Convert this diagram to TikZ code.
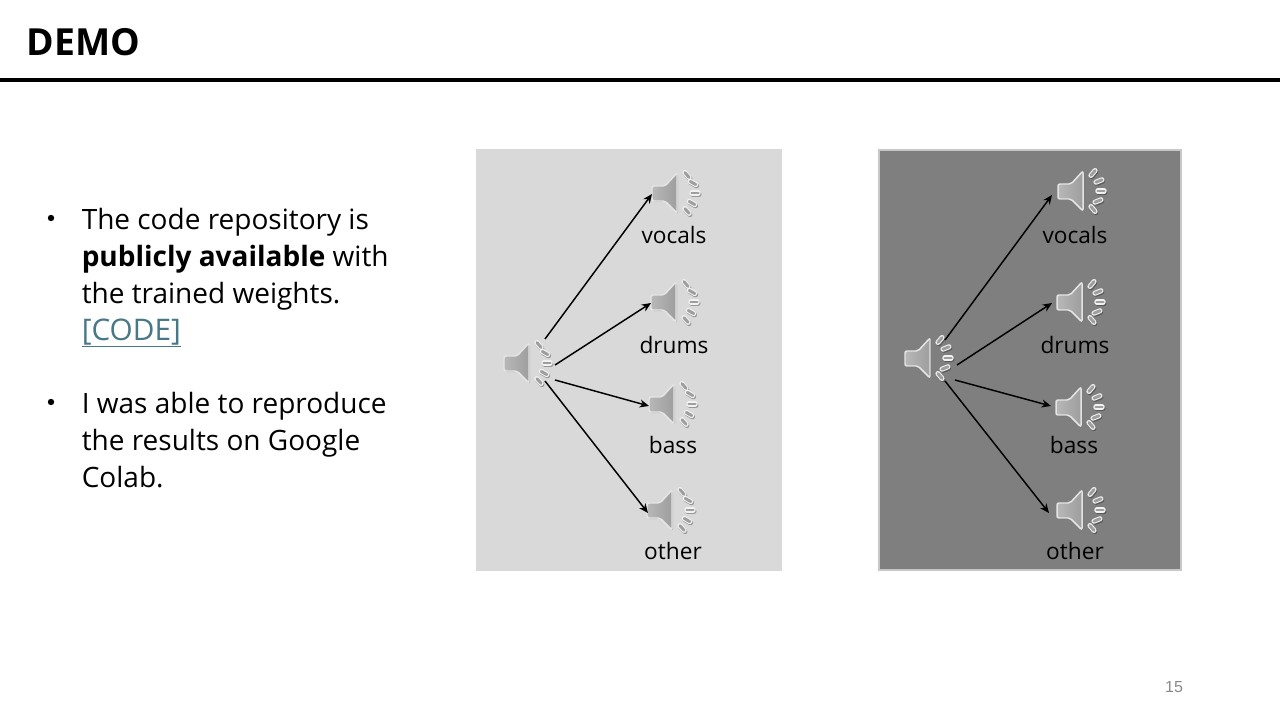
\documentclass[tikz,border=0pt]{standalone}
\usepackage{fontspec}
\setmainfont{Open Sans}
\newfontfamily\numfont{Liberation Sans}
\usepackage{tikz}
\usetikzlibrary{arrows.meta,positioning,calc}
\definecolor{ink}{RGB}{0,0,0}
\definecolor{lightpanel}{RGB}{217,217,217}
\definecolor{darkpanel}{RGB}{127,127,127}
\definecolor{panelrim}{RGB}{200,200,200}
\definecolor{linkc}{RGB}{70,120,134}
\definecolor{pagec}{RGB}{137,137,137}
\newcommand{\spkicon}[5]{%
  \foreach \dx/\dy/\tilt in {10/-18/#1,16/-10/#2,18/0/#3,15/10/#4,10/18/#5}{
    \draw[black,opacity=.3,line width=3.8pt,line cap=round,shift={(\dx+.8,\dy+1.2)},rotate=\tilt] (-3.2,0) -- (3.2,0);
    \draw[white!95!black,line width=3.8pt,line cap=round,shift={(\dx,\dy)},rotate=\tilt] (-3.2,0) -- (3.2,0);
    \draw[black!38,line width=2.2pt,line cap=round,shift={(\dx,\dy)},rotate=\tilt] (-3.2,0) -- (3.2,0);
  }
  \fill[black,opacity=.18,rounded corners=1.5pt] (-24,-6) -- (-11,-6) -- (1,-19) -- (1,21) -- (-11,9) -- (-24,9) -- cycle;
  \draw[white!90!black,line width=1.1pt,left color=black!28,right color=black!38,rounded corners=1.5pt]
    (-25,-7) -- (-12,-7) -- (0,-20) -- (0,20) -- (-12,8) -- (-25,8) -- cycle;
}
\tikzset{
  spk/.style={inner sep=0pt,minimum width=50,minimum height=40},
  pics/speakerl/.style={code={\spkicon{-50}{-30}{0}{-30}{-48}}},
  pics/speakerr/.style={code={\spkicon{50}{22}{0}{22}{-50}}},
  arr/.style={-{Stealth[length=7pt,width=6pt]},line width=1.1pt,ink},
  stem/.style={font=\fontsize{17}{20}\selectfont,text=ink,inner sep=0pt},
  bodytext/.style={font=\fontsize{21}{27.75}\selectfont,text=ink,align=left,inner sep=0pt,anchor=north west},
  dotnode/.style={circle,fill=ink,inner sep=0pt,minimum size=4.8pt},
}
\begin{document}
\begin{tikzpicture}[x=0.75pt,y=-0.75pt]
  \useasboundingbox (0,0) rectangle (1280,720);
  % header
  \node[font=\fontsize{28}{32}\selectfont\bfseries,text=ink,inner sep=0pt,anchor=base west] (title) at (26.5,56) {DEMO};
  \fill[ink] (0,78) rectangle (1280,82);
  % bullets
  \node[dotnode] (dot1) at (51,218) {};
  \node[bodytext] (item1) at (81.5,207.5) {The code repository is\\\textbf{publicly available} with\\the trained weights.\\\textcolor{linkc}{\fontsize{22.3}{27.75}\selectfont\underline{[CODE]}}};
  \node[dotnode] (dot2) at (51,402) {};
  \node[bodytext] (item2) at (81.5,391.5) {I was able to reproduce\\the results on Google\\Colab.};
  % panels
  \fill[lightpanel] (476,149) rectangle (782,571);
  \draw[panelrim,fill=darkpanel,line width=1.5pt] (878.5,150.5) rectangle (1181,570);
  % left speakers
  \foreach \nm/\px/\py/\txt/\tx/\ty in {lmix/529/363//0/0,
    lvoc/677/193/vocals/674/235,ldru/676/302/drums/674/345,
    lbas/674/404/bass/673/445,loth/672/510/other/673/551}{
    \node[spk] (\nm) at (\px,\py) {};
    \pic at (\nm) {speakerl};
    \node[stem] (\nm txt) at (\tx,\ty) {\txt};
  }
  % right speakers
  \foreach \nm/\px/\py/\txt/\tx/\ty in {rmix/930/358//0/0,
    rvoc/1083/191/vocals/1075/235,rdru/1082/302/drums/1075/345,
    rbas/1081/407/bass/1074/445,roth/1082/510/other/1075/551}{
    \node[spk] (\nm) at (\px,\py) {};
    \pic at (\nm) {speakerr};
    \node[stem] (\nm txt) at (\tx,\ty) {\txt};
  }
  % arrows
  \draw[arr] ([shift={(16,-24)}]lmix.center) -- ([shift={(-25,1)}]lvoc.center);
  \draw[arr] ([shift={(26,2)}]lmix.center) -- ([shift={(-25,1)}]ldru.center);
  \draw[arr] ([shift={(26,17)}]lmix.center) -- ([shift={(-25,2)}]lbas.center);
  \draw[arr] ([shift={(16,18)}]lmix.center) -- ([shift={(-24,3)}]loth.center);
  \draw[arr] ([shift={(15,-18)}]rmix.center) -- ([shift={(-31,4)}]rvoc.center);
  \draw[arr] ([shift={(27,7)}]rmix.center) -- ([shift={(-30,1)}]rdru.center);
  \draw[arr] ([shift={(25,22)}]rmix.center) -- ([shift={(-30,-1)}]rbas.center);
  \draw[arr] ([shift={(15,23)}]rmix.center) -- ([shift={(-33,3)}]roth.center);
  % page number
  \node[font=\fontsize{12}{14}\numfont,text=pagec,inner sep=0pt] (page) at (1174,687) {15};
\end{tikzpicture}
\end{document}
